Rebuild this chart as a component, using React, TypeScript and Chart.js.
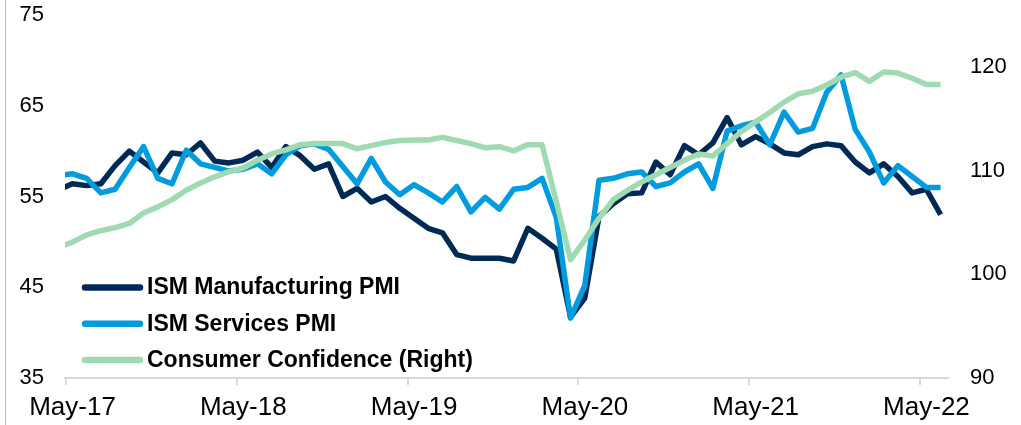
import React, { useEffect, useRef } from "react";
import { Chart, registerables } from "chart.js";

Chart.register(...registerables);

// Monthly categories (Apr-17 is only partly visible at the left edge)
const months: string[] = [
  "Apr-17", "May-17", "Jun-17", "Jul-17", "Aug-17", "Sep-17", "Oct-17", "Nov-17", "Dec-17",
  "Jan-18", "Feb-18", "Mar-18", "Apr-18", "May-18", "Jun-18", "Jul-18", "Aug-18", "Sep-18", "Oct-18", "Nov-18", "Dec-18",
  "Jan-19", "Feb-19", "Mar-19", "Apr-19", "May-19", "Jun-19", "Jul-19", "Aug-19", "Sep-19", "Oct-19", "Nov-19", "Dec-19",
  "Jan-20", "Feb-20", "Mar-20", "Apr-20", "May-20", "Jun-20", "Jul-20", "Aug-20", "Sep-20", "Oct-20", "Nov-20", "Dec-20",
  "Jan-21", "Feb-21", "Mar-21", "Apr-21", "May-21", "Jun-21", "Jul-21", "Aug-21", "Sep-21", "Oct-21", "Nov-21", "Dec-21",
  "Jan-22", "Feb-22", "Mar-22", "Apr-22", "May-22", "Jun-22",
];

const ismManufacturing: number[] = [
  55.7, 56.4, 56.2, 56.4, 58.4, 60.0, 58.8, 57.6, 59.8,
  59.6, 60.9, 58.9, 58.7, 59.0, 59.9, 58.2, 60.5, 59.5, 58.0, 58.6, 55.0,
  55.9, 54.4, 55.0, 53.7, 52.6, 51.5, 51.0, 48.6, 48.2, 48.2, 48.2, 47.9,
  51.5, 50.4, 49.2, 41.7, 43.8, 52.8, 54.2, 55.3, 55.4, 58.8, 57.4, 60.6,
  59.6, 60.9, 63.7, 60.7, 61.6, 60.8, 59.8, 59.6, 60.5, 60.8, 60.6, 58.8,
  57.6, 58.6, 57.2, 55.4, 55.8, 53.0,
];

const ismServices: number[] = [
  57.3, 57.5, 57.0, 55.4, 55.8, 58.2, 60.5, 57.0, 56.4,
  60.1, 58.6, 58.2, 57.8, 58.0, 58.6, 57.5, 59.6, 60.6, 60.8, 60.2, 58.3,
  56.4, 59.2, 56.6, 55.2, 56.3, 55.4, 54.4, 56.1, 53.3, 54.9, 53.6, 55.8,
  56.0, 57.0, 52.7, 41.6, 45.2, 56.8, 57.0, 57.5, 57.7, 56.1, 56.5, 57.7,
  58.6, 55.9, 62.2, 62.8, 63.2, 60.7, 64.3, 62.1, 62.5, 66.5, 68.4, 62.4,
  59.9, 56.5, 58.4, 57.2, 56.0, 56.0,
];

const consumerConfidence: number[] = [
  102.6, 103.1, 103.8, 104.2, 104.5, 104.9, 105.9, 106.5, 107.2,
  108.1, 108.8, 109.4, 109.9, 110.25, 111.0, 111.6, 112.0, 112.5, 112.6, 112.6, 112.6,
  112.1, 112.4, 112.7, 112.9, 112.95, 112.95, 113.2, 112.9, 112.6, 112.2, 112.3, 111.9,
  112.5, 112.5, 107.0, 101.4, 103.3, 105.4, 107.2, 108.1, 108.9, 109.6, 110.3, 111.0,
  111.6, 111.4, 112.6, 113.75, 114.7, 115.6, 116.6, 117.4, 117.65, 118.25, 119.0, 119.45,
  118.6, 119.5, 119.4, 118.9, 118.3, 118.3,
];

const xTickLabels: string[] = ["May-17", "May-18", "May-19", "May-20", "May-21", "May-22"];
const leftTicks: number[] = [35, 45, 55, 65, 75];
const rightTicks: number[] = [90, 100, 110, 120];

const seriesNames = ["ISM Manufacturing PMI", "ISM Services PMI", "Consumer Confidence (Right)"];
const seriesColors = ["#002A56", "#009CDE", "#A0DAB3"];

const FONT = "'Liberation Sans', Arial, Helvetica, sans-serif";
const TICK_SHIFT = 0.45; // month ticks sit slightly before the monthly points

const insideLegend = {
  id: "insideLegend",
  afterDraw(chart: any) {
    const ctx = chart.ctx as CanvasRenderingContext2D;
    ctx.save();
    const y0 = 287.5;
    const dy = 36.2;
    seriesNames.forEach((name, i) => {
      const y = y0 + i * dy;
      ctx.strokeStyle = seriesColors[i];
      ctx.lineWidth = 6.5;
      ctx.lineCap = "round";
      ctx.beginPath();
      ctx.moveTo(85, y);
      ctx.lineTo(140, y);
      ctx.stroke();
      ctx.fillStyle = "#000000";
      ctx.font = `bold 23px ${FONT}`;
      ctx.textAlign = "left";
      ctx.textBaseline = "middle";
      ctx.fillText(name, 147, y + 0.5);
    });
    ctx.restore();
  },
};

export default function App() {
  const canvasRef = useRef<HTMLCanvasElement | null>(null);

  useEffect(() => {
    if (!canvasRef.current) return;
    const toPoints = (arr: number[]) => arr.map((v, i) => ({ x: i, y: v }));
    const lineCommon = {
      borderWidth: 5.5,
      pointRadius: 0,
      tension: 0,
      fill: false,
      clip: 0,
      borderJoinStyle: "round" as const,
      borderCapStyle: "butt" as const,
    };
    const chart = new Chart(canvasRef.current, {
      type: "line",
      data: {
        datasets: [
          {
            ...lineCommon,
            label: seriesNames[0],
            data: toPoints(ismManufacturing),
            borderColor: seriesColors[0],
            backgroundColor: seriesColors[0],
            yAxisID: "y",
            order: 3,
          },
          {
            ...lineCommon,
            label: seriesNames[1],
            data: toPoints(ismServices),
            borderColor: seriesColors[1],
            backgroundColor: seriesColors[1],
            yAxisID: "y",
            order: 2,
          },
          {
            ...lineCommon,
            label: seriesNames[2],
            data: toPoints(consumerConfidence),
            borderColor: seriesColors[2],
            backgroundColor: seriesColors[2],
            yAxisID: "y1",
            order: 1,
          },
        ],
      },
      options: {
        responsive: false,
        animation: false,
        events: [],
        layout: { padding: { top: 15, left: 0, right: 0, bottom: 0 } },
        plugins: {
          legend: { display: false },
          tooltip: { enabled: false },
        },
        scales: {
          x: {
            type: "linear",
            min: 0.48,
            max: 62.52,
            afterBuildTicks: (axis: any) => {
              axis.ticks = xTickLabels.map((lab) => ({ value: months.indexOf(lab) - TICK_SHIFT }));
            },
            afterFit: (axis: any) => {
              axis.height = 47;
              axis.paddingLeft = 0;
              axis.paddingRight = 0;
            },
            grid: {
              display: true,
              drawOnChartArea: false,
              drawTicks: true,
              tickLength: 7,
              color: "#D9D9D9",
              lineWidth: 2,
            },
            border: { display: true, color: "#D9D9D9", width: 2 },
            ticks: {
              autoSkip: false,
              maxRotation: 0,
              minRotation: 0,
              padding: 7,
              labelOffset: 6.5,
              color: "#000000",
              font: { family: FONT, size: 26 },
              callback: (_v: any, idx: number) => xTickLabels[idx],
            },
          },
          y: {
            type: "linear",
            position: "left",
            min: 35,
            max: 75,
            afterBuildTicks: (axis: any) => {
              axis.ticks = leftTicks.map((v) => ({ value: v }));
            },
            afterFit: (axis: any) => {
              axis.width = 65;
              axis.paddingTop = 0;
              axis.paddingBottom = 0;
            },
            grid: { display: false, drawTicks: false },
            border: { display: false },
            ticks: {
              padding: 21,
              color: "#000000",
              font: { family: FONT, size: 22 },
            },
          },
          y1: {
            type: "linear",
            position: "right",
            min: 90,
            max: 125,
            afterBuildTicks: (axis: any) => {
              axis.ticks = rightTicks.map((v) => ({ value: v }));
            },
            afterFit: (axis: any) => {
              axis.width = 73;
              axis.paddingTop = 0;
              axis.paddingBottom = 0;
            },
            grid: { display: false, drawTicks: false },
            border: { display: false },
            ticks: {
              padding: 22,
              color: "#000000",
              font: { family: FONT, size: 22 },
            },
          },
        },
      },
      plugins: [insideLegend],
    });
    return () => chart.destroy();
  }, []);

  return (
    <div
      style={{
        position: "fixed",
        left: 0,
        top: 0,
        width: 1021,
        height: 425,
        background: "#ffffff",
        overflow: "hidden",
      }}
    >
      <canvas ref={canvasRef} width={1021} height={425} style={{ display: "block" }} />
      <div
        style={{
          position: "absolute",
          left: 5,
          top: 0,
          width: 1,
          height: 425,
          background: "#BDBDBD",
        }}
      />
    </div>
  );
}
